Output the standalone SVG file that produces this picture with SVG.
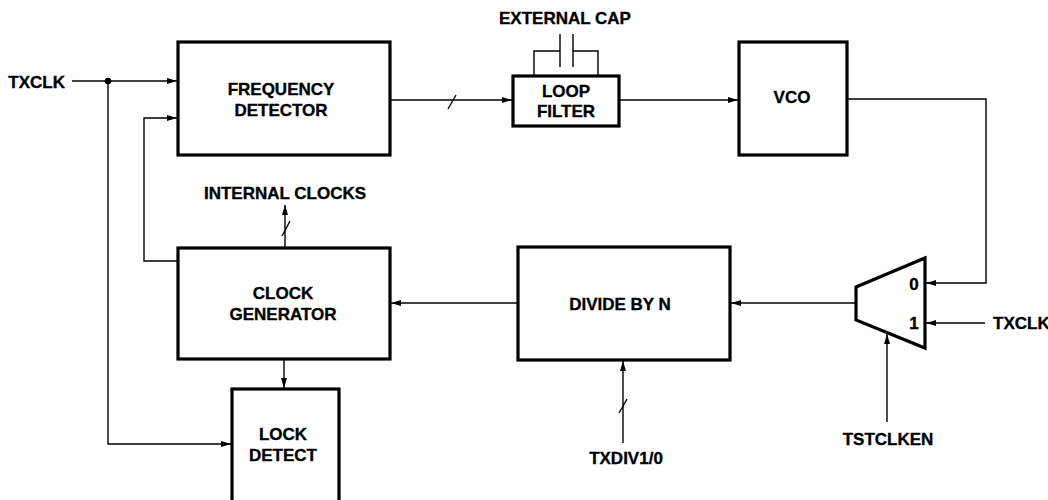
<svg xmlns="http://www.w3.org/2000/svg" width="1048" height="500" viewBox="0 0 1048 500">
<style>
.box{fill:#fff;stroke:#000;stroke-width:3.2}
.w{fill:none;stroke:#000;stroke-width:1.4}
.t{font-family:"Liberation Sans",Arial,sans-serif;font-weight:bold;font-size:17px;fill:#000;stroke:#000;stroke-width:0.35;text-anchor:middle}
</style>
<defs>
<marker id="a" viewBox="0 0 10 6" refX="10" refY="3" markerWidth="10" markerHeight="6" markerUnits="userSpaceOnUse" orient="auto"><path d="M0,0 L10,3 L0,6 Z" fill="#000"/></marker>
</defs>
<rect width="1048" height="500" fill="#fff"/>
<g id="connectors">
<path class="w" d="M72,81 H177" marker-end="url(#a)"/>
<circle cx="108" cy="81" r="3.2" fill="#000"/>
<path class="w" d="M108,81 V444 H231" marker-end="url(#a)"/>
<path class="w" d="M178,261 H144 V118 H177" marker-end="url(#a)"/>
<path class="w" d="M390,100 H512" marker-end="url(#a)"/>
<path class="w" d="M448,109 L456,95"/>
<path class="w" d="M619,100 H738" marker-end="url(#a)"/>
<path class="w" d="M847,99 H986 V283 H926" marker-end="url(#a)"/>
<path class="w" d="M985,323 H926" marker-end="url(#a)"/>
<path class="w" d="M856,303 H731" marker-end="url(#a)"/>
<path class="w" d="M518,303 H391" marker-end="url(#a)"/>
<path class="w" d="M285,247 V205" marker-end="url(#a)"/>
<path class="w" d="M282,236 L290,221"/>
<path class="w" d="M284,360 V388" marker-end="url(#a)"/>
<path class="w" d="M623,443 V361" marker-end="url(#a)"/>
<path class="w" d="M619,413 L627,399"/>
<path class="w" d="M887,422 V334" marker-end="url(#a)"/>
<path class="w" d="M534,76 V51 H560 M573,51 H598 V76 M560,34 V67 M573,34 V67"/>
</g>
<g id="freq-detector">
<rect class="box" x="178" y="42" width="212" height="113"/>
<text class="t" x="281" y="95">FREQUENCY</text>
<text class="t" x="281" y="116">DETECTOR</text>
</g>
<g id="loop-filter">
<rect class="box" x="513" y="76" width="106" height="50"/>
<text class="t" x="566" y="97">LOOP</text>
<text class="t" x="566" y="117">FILTER</text>
</g>
<g id="external-cap">
<text class="t" x="565" y="24">EXTERNAL CAP</text>
</g>
<g id="vco">
<rect class="box" x="739" y="42" width="108" height="113"/>
<text class="t" x="792" y="103">VCO</text>
</g>
<g id="mux">
<path d="M856,287 L925,258 V348 L856,320 Z" fill="#fff" stroke="#000" stroke-width="3.2" stroke-linejoin="miter"/>
<text class="t" x="914" y="290">0</text>
<text class="t" x="914" y="329">1</text>
</g>
<g id="txclk-right">
<text class="t" x="993" y="329" style="text-anchor:start">TXCLK</text>
</g>
<g id="tstclken">
<text class="t" x="888" y="445">TSTCLKEN</text>
</g>
<g id="divide-by-n">
<rect class="box" x="518" y="247" width="212" height="113"/>
<text class="t" x="620" y="310">DIVIDE BY N</text>
</g>
<g id="txdiv">
<text class="t" x="626" y="464">TXDIV1/0</text>
</g>
<g id="clock-generator">
<rect class="box" x="178" y="248" width="212" height="111"/>
<text class="t" x="283" y="299">CLOCK</text>
<text class="t" x="283" y="320">GENERATOR</text>
</g>
<g id="internal-clocks">
<text class="t" x="285" y="199">INTERNAL CLOCKS</text>
</g>
<g id="lock-detect">
<rect class="box" x="232" y="389" width="107" height="130"/>
<text class="t" x="283" y="440">LOCK</text>
<text class="t" x="283" y="461">DETECT</text>
</g>
<g id="txclk-left">
<text class="t" x="65" y="88" style="text-anchor:end">TXCLK</text>
</g>
</svg>
